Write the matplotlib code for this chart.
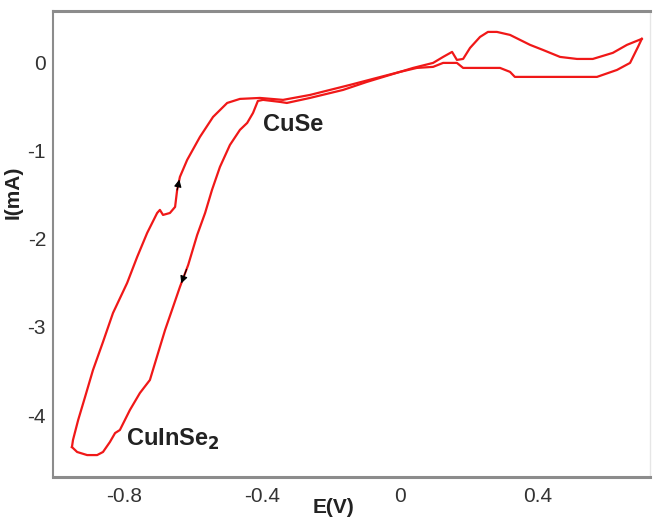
import matplotlib
matplotlib.use("Agg")
import matplotlib.pyplot as plt
import numpy as np

plt.rcParams['font.family'] = ['Liberation Sans', 'DejaVu Sans']
plt.rcParams['axes.unicode_minus'] = False

# Cathodic sweep (from positive vertex toward negative potentials)
E_cath = [0.701, 0.690, 0.667, 0.629, 0.571, 0.464, 0.333, 0.319, 0.290, 0.183,
          0.165, 0.125, 0.096, 0.049, 0.000, -0.096, -0.165, -0.261, -0.328, -0.348,
          -0.397, -0.412, -0.426, -0.443, -0.464, -0.493, -0.522, -0.545, -0.565,
          -0.588, -0.614, -0.638, -0.658, -0.681, -0.696, -0.725, -0.754, -0.783,
          -0.812, -0.826, -0.841, -0.861, -0.878, -0.907, -0.936, -0.951]
I_cath = [0.273, 0.182, 0.000, -0.080, -0.159, -0.159, -0.159, -0.102, -0.057, -0.057,
          0.000, 0.000, -0.045, -0.057, -0.102, -0.216, -0.307, -0.398, -0.455, -0.443,
          -0.420, -0.432, -0.568, -0.682, -0.761, -0.932, -1.182, -1.443, -1.705,
          -1.955, -2.295, -2.545, -2.773, -3.034, -3.227, -3.602, -3.750, -3.943,
          -4.170, -4.205, -4.307, -4.420, -4.455, -4.455, -4.420, -4.364]

# Anodic sweep (return toward positive potentials)
E_anod = [-0.951, -0.948, -0.933, -0.913, -0.890, -0.861, -0.832, -0.791, -0.762,
          -0.733, -0.704, -0.696, -0.687, -0.667, -0.652, -0.646, -0.638, -0.617,
          -0.580, -0.542, -0.501, -0.464, -0.406, -0.339, -0.261, -0.145, -0.067,
          0.000, 0.038, 0.096, 0.125, 0.151, 0.165, 0.183, 0.203, 0.232, 0.255,
          0.281, 0.319, 0.377, 0.414, 0.464, 0.513, 0.559, 0.617, 0.658, 0.701]
I_anod = [-4.364, -4.284, -4.057, -3.795, -3.489, -3.170, -2.841, -2.500, -2.205,
          -1.932, -1.705, -1.670, -1.727, -1.705, -1.636, -1.443, -1.295, -1.102,
          -0.841, -0.614, -0.455, -0.409, -0.398, -0.420, -0.364, -0.250, -0.170,
          -0.102, -0.057, 0.000, 0.068, 0.125, 0.034, 0.045, 0.170, 0.295, 0.352,
          0.352, 0.318, 0.205, 0.148, 0.068, 0.045, 0.045, 0.114, 0.205, 0.273]

xticks = [-0.8, -0.4, 0, 0.4]
xticklabels = ['-0.8', '-0.4', '0', '0.4']
yticks = [0, -1, -2, -3, -4]
yticklabels = ['0', '-1', '-2', '-3', '-4']

fig = plt.figure(figsize=(6.54, 5.18), dpi=100)
ax = fig.add_axes([0.081, 0.079, 0.913, 0.900])

red = '#f01818'
ax.plot(E_cath, I_cath, color=red, lw=1.6, solid_joinstyle='round')
ax.plot(E_anod, I_anod, color=red, lw=1.6, solid_joinstyle='round')

# direction arrows placed on the data path
def arrow_on(xs, ys, i, frac=0.35):
    x0, y0 = xs[i], ys[i]
    x1, y1 = xs[i + 1], ys[i + 1]
    xa = x0 + (x1 - x0) * frac
    ya = y0 + (y1 - y0) * frac
    ax.annotate('', xy=(x1 - (x1 - x0) * (1 - frac) * 0.2, y1 - (y1 - y0) * (1 - frac) * 0.2),
                xytext=(xa, ya),
                arrowprops=dict(arrowstyle='-|>', color='black', lw=0.8,
                                mutation_scale=11, shrinkA=0, shrinkB=0))

arrow_on(E_anod, I_anod, 15, 0.0)
arrow_on(E_cath, I_cath, 30, 0.2)

ax.set_xlim(-1.006, 0.725)
ax.set_ylim(-4.705, 0.591)
ax.set_xticks(xticks)
ax.set_xticklabels(xticklabels)
ax.set_yticks(yticks)
ax.set_yticklabels(yticklabels)
ax.tick_params(length=0, labelsize=15, labelcolor='#333333')
ax.tick_params(axis='x', pad=7)
ax.tick_params(axis='y', pad=5)

for s in ['top', 'bottom']:
    ax.spines[s].set_color('#8c8c8c')
    ax.spines[s].set_linewidth(2.2)
ax.spines['left'].set_color('#8c8c8c')
ax.spines['left'].set_linewidth(1.5)
ax.spines['right'].set_color('#e6e6e6')
ax.spines['right'].set_linewidth(1.0)

ax.set_xlabel('E(V)', fontsize=15, fontweight='bold', color='#222222')
ax.xaxis.set_label_coords(0.469, -0.045)
ax.set_ylabel('I(mA)', fontsize=15, fontweight='bold', color='#222222')
ax.yaxis.set_label_coords(-0.05, 0.61)

ax.text(-0.31, -0.70, 'CuSe', fontsize=17, fontweight='bold', color='#222222',
        ha='center', va='center')
ax.text(-0.66, -4.28, r'CuInSe$_\mathbf{2}$', fontsize=17, fontweight='bold',
        color='#222222', ha='center', va='center')

fig.savefig('out.png', dpi=100)
